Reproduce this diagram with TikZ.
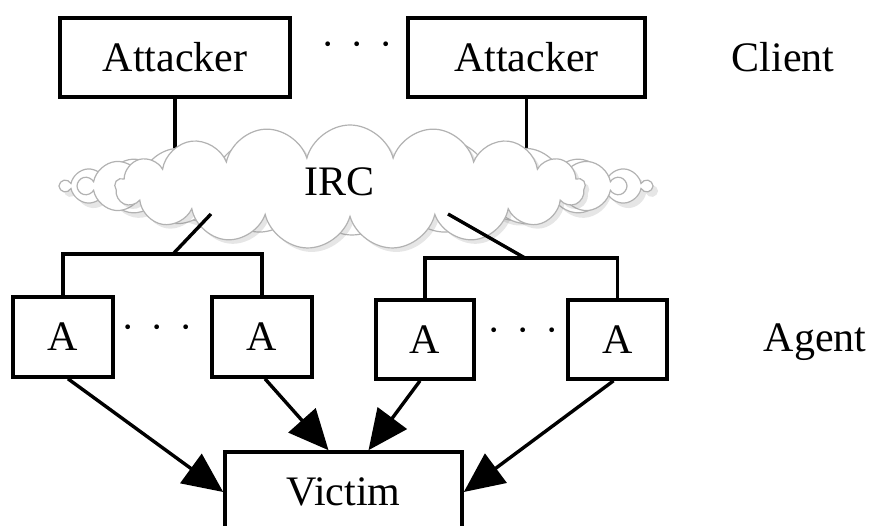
\documentclass[tikz,border=0pt]{standalone}
\usepackage{fontspec}
\setmainfont{Liberation Serif}
\usetikzlibrary{arrows.meta,shapes.symbols,shadows,calc}
\begin{document}
\begin{tikzpicture}[x=1pt,y=-1pt,
  box/.style={draw,line width=3.6pt,fill=white,inner sep=0pt,font=\fontsize{42}{48}\selectfont},
  lbl/.style={inner sep=0pt,font=\fontsize{42}{48}\selectfont},
  dotsnode/.style={inner sep=0pt,font=\fontsize{40}{48}\selectfont},
  conn/.style={line width=3.4pt},
  arr/.style={line width=3.4pt,-{Triangle[length=40pt,width=36pt]}},
  cloudstyle/.style={cloud,cloud ignores aspect,draw=gray!60,line width=1.2pt,fill=white}
]
\useasboundingbox (0,0) rectangle (882,526);
% top row
\node[box,minimum width=230pt,minimum height=79pt] (att1) at (175,57.5) {Attacker};
\node[box,minimum width=237pt,minimum height=79pt] (att2) at (526.5,57.5) {Attacker};
\node[dotsnode] (dt) at (357,50) {·\hspace{16pt}·\hspace{16pt}·};
\node[lbl] (client) at (783,57) {Client};
% lines from attackers into the cloud
\coordinate (c1) at (175,160);
\coordinate (c2) at (526.5,160);
\draw[conn] (att1.south) -- (c1);
\draw[conn] (att2.south) -- (c2);
% cloud
\node[cloudstyle,cloud puffs=22,minimum width=590pt,minimum height=82pt,
      drop shadow={shadow xshift=5pt,shadow yshift=-5pt,opacity=0.2}] (cloudb) at (356,186) {};
\node[cloudstyle,cloud puffs=18,minimum width=545pt,minimum height=98pt] (cloudm) at (352,186) {};
\node[cloudstyle,cloud puffs=17,minimum width=470pt,minimum height=124pt,
      drop shadow={shadow xshift=4pt,shadow yshift=-4pt,opacity=0.2}] (cloud) at (350,187) {};
\node[lbl] (irc) at (340,182) {IRC};
% agents
\node[box,minimum width=100pt,minimum height=80pt] (A1) at (63,337) {A};
\node[box,minimum width=100pt,minimum height=80pt] (A2) at (262,337) {A};
\node[box,minimum width=98pt,minimum height=79pt] (A3) at (425,339.5) {A};
\node[box,minimum width=99pt,minimum height=79pt] (A4) at (617.5,339.5) {A};
\node[dotsnode] (dl) at (157,333) {·\hspace{16pt}·\hspace{16pt}·};
\node[dotsnode] (dr) at (523,336) {·\hspace{16pt}·\hspace{16pt}·};
\node[lbl] (agent) at (815,342) {Agent};
% bars
\coordinate (jl) at (173,254);
\coordinate (cl) at (211,214);
\coordinate (jr) at (525,258);
\coordinate (cr) at (448,214);
\draw[conn] (A1.north) |- (jl) -| (A2.north);
\draw[conn] (cl) -- (jl);
\draw[conn] (A3.north) |- (jr) -| (A4.north);
\draw[conn] (cr) -- (jr);
% victim
\node[box,minimum width=237pt,minimum height=80pt] (V) at (343.5,492) {Victim};
% arrows
\draw[arr] ([xshift=5pt]A1.south) -- (V.west);
\draw[arr] ([xshift=3pt]A2.south) -- ([xshift=-15pt]V.north);
\draw[arr] ([xshift=-5pt]A3.south) -- ([xshift=25pt]V.north);
\draw[arr] ([xshift=-4pt]A4.south) -- (V.east);
\end{tikzpicture}
\end{document}
